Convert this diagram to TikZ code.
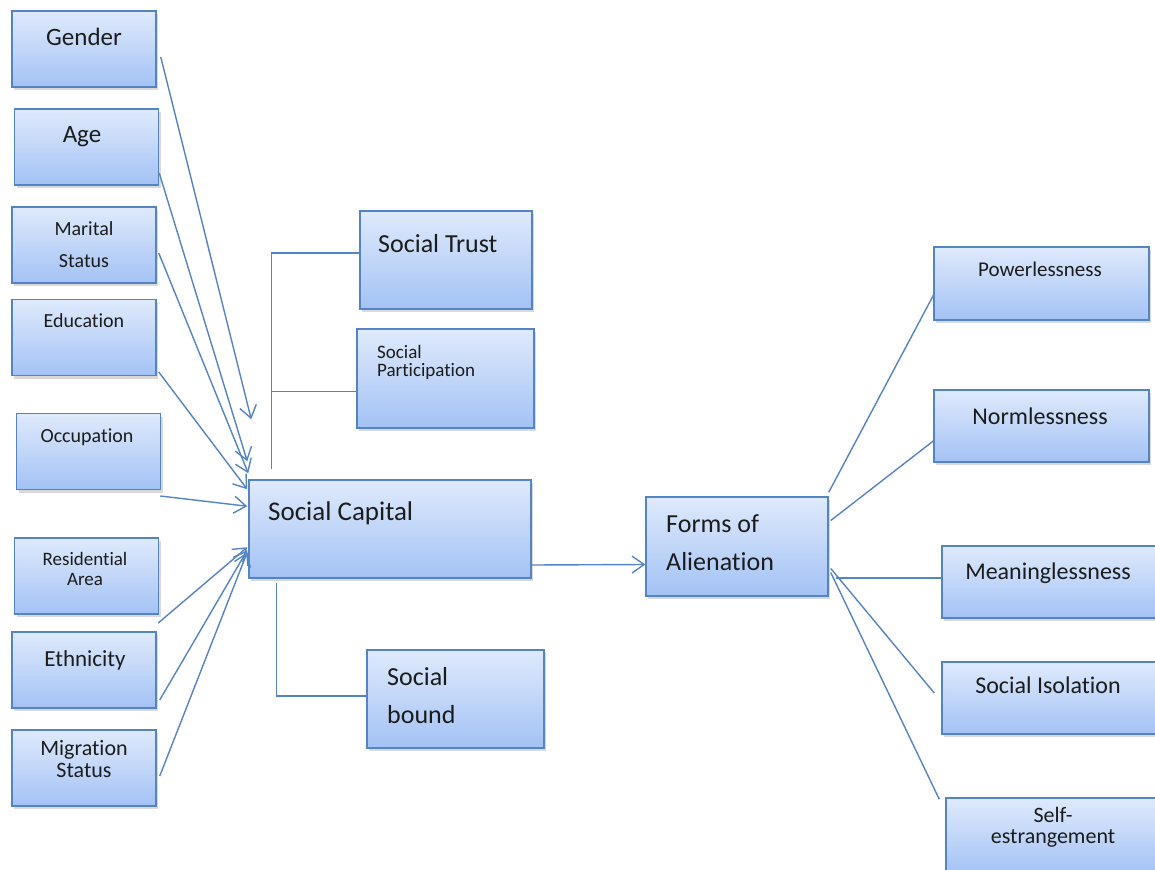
\documentclass[tikz,border=0pt]{standalone}
\usepackage{fontspec}
\setmainfont{Carlito}[Ligatures=NoCommon]
\usetikzlibrary{calc,shadows,arrows.meta}
\definecolor{boxtop}{RGB}{223,234,252}
\definecolor{boxbot}{RGB}{163,194,245}
\definecolor{boxline}{RGB}{84,132,196}
\definecolor{inkgray}{RGB}{28,28,28}

\tikzset{
  cbox/.style={draw=boxline, line width=1.5pt, top color=boxtop, bottom color=boxbot,
    inner sep=0pt, minimum width=144pt, minimum height=76pt,
    drop shadow={shadow xshift=2pt, shadow yshift=-3pt, opacity=0.3}},
  ctext/.style={text=inkgray, inner sep=0pt, anchor=base, align=center},
  ltext/.style={text=inkgray, inner sep=0pt, anchor=base west, align=left},
  feed/.style={boxline, line width=1.4pt, -{Straight Barb[length=12pt,width=17pt]}},
  link/.style={boxline, line width=1.4pt}
}

\begin{document}
\begin{tikzpicture}[x=1pt,y=-1pt]
  \useasboundingbox (0,0) rectangle (1155,869);

  % Background variables (label y = baseline of last line)
  \foreach \nm/\cx/\cy in {gender/84/49, age/86.5/147, marital/84/245, educ/84/337.5,
      occ/88.5/451.5, resid/86.5/576, ethn/84/670, migr/84/768}
    \node[cbox] (\nm) at (\cx,\cy) {};
  \foreach \nm/\cx/\by/\fs/\bs/\txt in {gender/84/46/25/30/Gender, age/82/143/25/30/Age,
      marital/84/267/20/32/{Marital\\Status}, educ/84/327/20/24/Education,
      occ/87/442/20/24/Occupation, resid/85/585/19/20/{Residential\\Area},
      ethn/85/666/23/28/Ethnicity, migr/84/777/22/22/{Migration\\Status}}
    \node[ctext, font=\fontsize{\fs}{\bs}\selectfont] (\nm-t) at (\cx,\by) {\txt};

  % Social capital and its parts
  \node[cbox, minimum width=282pt, minimum height=98pt] (sc) at (390,529) {};
  \node[cbox, minimum width=172pt, minimum height=98pt] (trust) at (446,260) {};
  \node[cbox, minimum width=177pt, minimum height=99pt] (part) at (445.5,378.5) {};
  \node[cbox, minimum width=177pt, minimum height=98pt] (bound) at (455.5,699) {};
  \node[ltext, font=\fontsize{27}{32}\selectfont] (sc-t) at (268,520) {Social Capital};
  \node[ltext, font=\fontsize{26}{30}\selectfont] (trust-t) at (378,252) {Social Trust};
  \node[ltext, font=\fontsize{19}{18}\selectfont] (part-t) at (377,376) {Social\\Participation};
  \node[ltext, font=\fontsize{26}{38}\selectfont] (bound-t) at (387,723) {Social\\bound};

  % Alienation
  \node[cbox, minimum width=182pt, minimum height=99pt] (forms) at (737,546.5) {};
  \node[ltext, font=\fontsize{26}{38}\selectfont] (forms-t) at (666,570) {Forms of\\Alienation};
  \foreach \nm/\cx/\cy/\w/\h in {pw/1041.5/283.5/215/73, nl/1041.5/426/215/72,
      mn/1049/582/214/72, si/1049/698/214/72, se/1051/836/210/76}
    \node[cbox, minimum width=\w pt, minimum height=\h pt] (\nm) at (\cx,\cy) {};
  \foreach \nm/\cx/\by/\fs/\bs/\txt in {pw/1040/276/21/24/Powerlessness,
      nl/1040/424/24/28/Normlessness, mn/1048/579/24/28/Meaninglessness,
      si/1048/693/24/28/Social Isolation, se/1053/843/22/21/{Self-\\estrangement}}
    \node[ctext, font=\fontsize{\fs}{\bs}\selectfont] (\nm-t) at (\cx,\by) {\txt};

  % Arrows into social capital
  \foreach \nm/\sx/\sy/\ex/\ey in {gender/4/8/3/-60, age/0/26/-1/-18, marital/2/8/0/-6,
      educ/2/34.5/-1/10, occ/-1/44.5/-1/27, resid/-1/47/-1/68, ethn/3/30/-1/71, migr/3/8/-1/73}
    \draw[feed] ($(\nm.east)+(\sx,\sy)$) -- ($(sc.north west)+(\ex,\ey)$);

  % Brackets
  \coordinate (stem) at ($(sc.north west)+(23,-10)$);
  \draw[link] (stem) |- ($(trust.west)+(0,-7)$);
  \draw[link] ($(part.west)+(0,13)$) -- ($(stem |- part.west)+(0,13)$);
  \draw[link] ($(sc.south west)+(28,4)$) |- ($(bound.west)+(0,-3)$);

  % Capital to alienation
  \draw[feed] ($(sc.east)+(0,36)$) -- ($(forms.west)+(0,18)$);

  % Forms
  \draw[link] ($(forms.north east)+(0,-4)$) -- ($(pw.west)+(0,12)$);
  \draw[link] ($(forms.east)+(2,-26)$) -- ($(nl.west)+(0,15)$);
  \draw[link] ($(forms.east)+(7,31.5)$) -- ($(mn.west)+(0,-4)$);
  \draw[link] ($(forms.east)+(2,22)$) -- ($(si.west)+(-7,-5)$);
  \draw[link] ($(forms.east)+(2,26)$) -- ($(se.north west)+(-6,2)$);
\end{tikzpicture}
\end{document}
